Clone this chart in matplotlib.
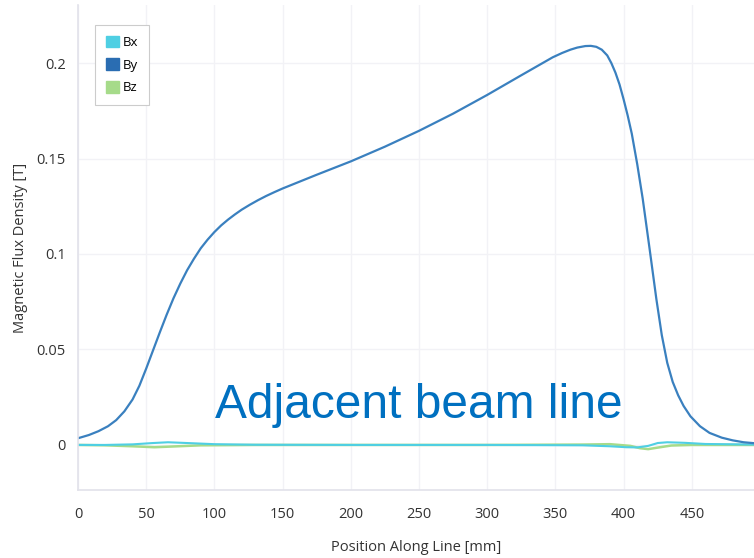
import matplotlib.pyplot as plt
from matplotlib.patches import Patch

# position along line [mm] and field components [T]
by_pos = [0, 8, 15, 22, 28, 34, 40, 45, 50, 55, 60, 65, 70, 75, 80, 85, 90, 95, 100,
          105, 110, 115, 120, 126, 132, 138, 144, 150, 175, 200, 225, 250, 275, 300,
          324, 348, 355, 361, 366, 372, 376, 380, 384, 388, 391, 394, 397, 400, 403,
          406, 410, 414, 419, 424, 428, 432, 436, 440, 444, 449, 456, 463, 472, 480,
          488, 496]
by_val = [0.0035, 0.0052, 0.0072, 0.0098, 0.0130, 0.0176, 0.0238, 0.0310, 0.0400,
          0.0495, 0.0590, 0.0682, 0.0768, 0.0845, 0.0915, 0.0975, 0.1030, 0.1075,
          0.1115, 0.1150, 0.1180, 0.1207, 0.1232, 0.1258, 0.1282, 0.1304, 0.1324,
          0.1343, 0.1415, 0.1485, 0.1562, 0.1645, 0.1735, 0.1833, 0.1932, 0.2030,
          0.2053, 0.2070, 0.2081, 0.2089, 0.2090, 0.2085, 0.2070, 0.2040, 0.2000,
          0.1950, 0.1888, 0.1810, 0.1725, 0.1630, 0.1470, 0.1290, 0.1030, 0.0765,
          0.0575, 0.0430, 0.0330, 0.0260, 0.0204, 0.0150, 0.0098, 0.0063, 0.0038,
          0.0024, 0.0014, 0.0009]

bx_pos = [0, 20, 40, 55, 66, 80, 100, 130, 200, 300, 370, 390, 402, 410, 418, 425, 432,
          445, 460, 496]
bx_val = [0, 0, 0.0003, 0.0010, 0.0014, 0.0010, 0.0004, 0.0001, 0, 0, -0.0002, -0.0007,
          -0.0012, -0.0013, -0.0005, 0.0010, 0.0014, 0.0011, 0.0005, 0.0002]

bz_pos = [0, 20, 40, 56, 70, 90, 130, 300, 370, 390, 405, 412, 418, 425, 435, 450, 496]
bz_val = [0, -0.0002, -0.0007, -0.0012, -0.0008, -0.0002, 0, 0, 0.0002, 0.0004, -0.0005,
          -0.0017, -0.0022, -0.0014, -0.0003, 0, 0]

x_ticks = [0, 50, 100, 150, 200, 250, 300, 350, 400, 450]
y_ticks = [0, 0.05, 0.1, 0.15, 0.2]
y_tick_labels = ['0', '0.05', '0.1', '0.15', '0.2']

c_bx = '#4fcfe3'
c_by = '#3a80bf'
c_bz = '#a6db8a'

plt.rcParams['font.family'] = ['Open Sans', 'DejaVu Sans']

fig = plt.figure(figsize=(7.54, 5.58), dpi=100)
ax = fig.add_axes([78 / 754, 1 - 490 / 558, 676 / 754, 485 / 558])

ax.plot(bz_pos, bz_val, color=c_bz, lw=1.8)
ax.plot(bx_pos, bx_val, color=c_bx, lw=1.5)
ax.plot(by_pos, by_val, color=c_by, lw=1.6)

ax.set_xlim(0, 495.6)
ax.set_ylim(-0.0236, 0.2304)
ax.set_xticks(x_ticks)
ax.set_yticks(y_ticks)
ax.set_yticklabels(y_tick_labels)
ax.tick_params(length=0, labelsize=10.5, labelcolor='#333333')
ax.tick_params(axis='x', pad=12)
ax.tick_params(axis='y', pad=9)
ax.grid(True, color='#f2f2f6', lw=1)
ax.set_axisbelow(True)
for s in ['top', 'right']:
    ax.spines[s].set_visible(False)
for s in ['left', 'bottom']:
    ax.spines[s].set_color('#e2e2ea')
    ax.spines[s].set_linewidth(1.2)

ax.set_xlabel('Position Along Line [mm]', fontsize=10.5, color='#333333', labelpad=13)
ax.set_ylabel('Magnetic Flux Density [T]', fontsize=10.5, color='#333333', labelpad=6)

handles = [Patch(color=c_bx), Patch(color='#2a6db2'), Patch(color=c_bz)]
leg = ax.legend(handles, ['Bx', 'By', 'Bz'], loc='upper left',
                bbox_to_anchor=(0.0251, 0.9588), borderaxespad=0, fontsize=9.5,
                handlelength=1.0, handleheight=1.0, handletextpad=0.3,
                labelspacing=0.7, borderpad=0.8, fancybox=False, framealpha=1)
leg.get_frame().set_edgecolor('#cccccc')
leg.get_frame().set_linewidth(0.8)

ax.text(100.4, 0.0141, 'Adjacent beam line', fontsize=34.5, color='#0070c0',
        family=['Liberation Sans', 'DejaVu Sans'], ha='left', va='baseline')

fig.savefig('out.png', dpi=100)
